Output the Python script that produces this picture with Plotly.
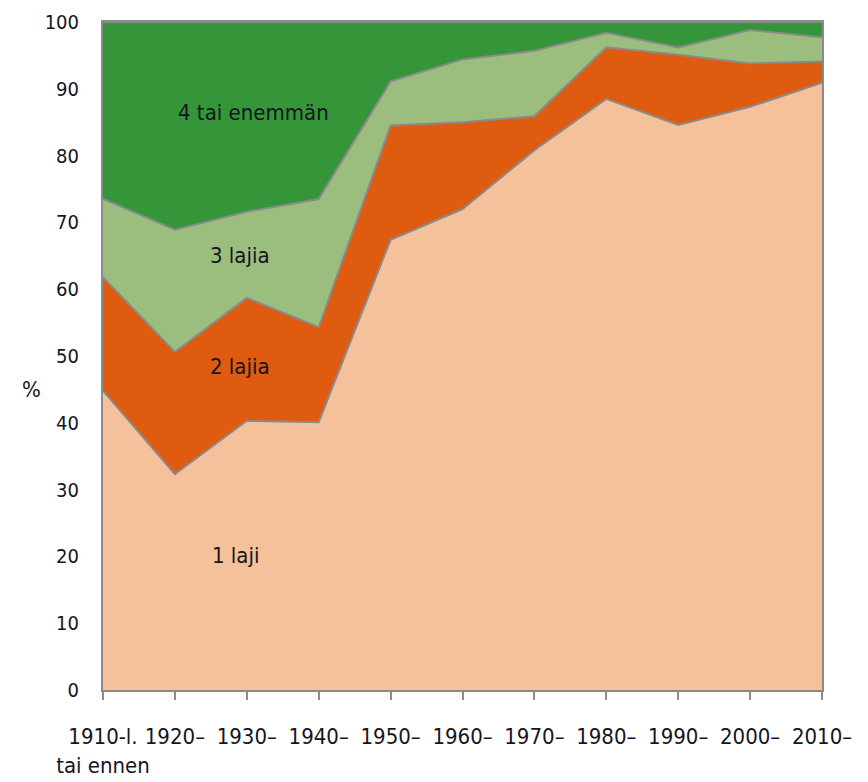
import plotly.graph_objects as go

categories = ["1910-l.", "1920–", "1930–", "1940–", "1950–", "1960–",
              "1970–", "1980–", "1990–", "2000–", "2010–"]
tick_labels = ["1910-l.<br>tai ennen", "1920–", "1930–", "1940–", "1950–", "1960–",
               "1970–", "1980–", "1990–", "2000–", "2010–"]

laji1 = [44.8, 32.3, 40.3, 40.1, 67.4, 72.0, 80.8, 88.5, 84.6, 87.3, 90.9]
lajia2 = [17.0, 18.3, 18.4, 14.2, 17.1, 13.0, 5.1, 7.7, 10.5, 6.5, 3.2]
lajia3 = [11.7, 18.3, 12.9, 19.2, 6.6, 9.4, 9.8, 2.2, 1.1, 5.0, 3.6]
enemman4 = [26.5, 31.1, 28.4, 26.5, 8.9, 5.6, 4.3, 1.6, 3.8, 1.2, 2.3]

series = [
    ("1 laji", laji1, "#F4C19B"),
    ("2 lajia", lajia2, "#DF5B10"),
    ("3 lajia", lajia3, "#9BBD7E"),
    ("4 tai enemmän", enemman4, "#349638"),
]

font_family = "DejaVu Sans Condensed, sans-serif"
text_color = "#15151f"

fig = go.Figure()
for name, vals, col in series:
    fig.add_trace(go.Scatter(
        x=categories, y=vals, name=name, stackgroup="one", mode="lines",
        line=dict(color="#8a8a8a", width=2), fillcolor=col,
    ))

labels = [
    ("4 tai enemmän", 2.1, 86.4),
    ("3 lajia", 1.9, 65.0),
    ("2 lajia", 1.9, 48.4),
    ("1 laji", 1.85, 20.2),
]
for txt, xi, yv in labels:
    fig.add_annotation(x=xi, y=yv, text=txt, showarrow=False,
                       font=dict(size=22, color=text_color, family=font_family))

fig.add_annotation(text="%", xref="paper", yref="paper", x=-0.1, y=0.45,
                   showarrow=False, xanchor="center",
                   font=dict(size=22, color=text_color, family=font_family))

# page body has an 8px margin, so the figure is 8px smaller on each side
fig.update_layout(
    width=860, height=774,
    margin=dict(l=95, r=46, t=14, b=92),
    paper_bgcolor="white", plot_bgcolor="white",
    showlegend=False,
    font=dict(family=font_family, color=text_color),
)
fig.update_xaxes(
    type="category", range=[0, len(categories) - 1],
    tickvals=categories, ticktext=tick_labels, tickangle=0, automargin=False,
    ticks="outside", ticklen=8, tickcolor="#8a8a8a", tickwidth=1.5,
    ticklabelstandoff=18,
    showline=True, linecolor="#8a8a8a", linewidth=2, mirror=True,
    showgrid=False, tickfont=dict(size=22, family=font_family, color=text_color),
)
fig.update_yaxes(
    range=[0, 100], dtick=10, ticks="", ticklabelstandoff=18, automargin=False,
    showline=True, linecolor="#8a8a8a", linewidth=2, mirror=True,
    showgrid=False, zeroline=False,
    tickfont=dict(size=20, family=font_family, color=text_color),
)

fig.write_html("out.html")
